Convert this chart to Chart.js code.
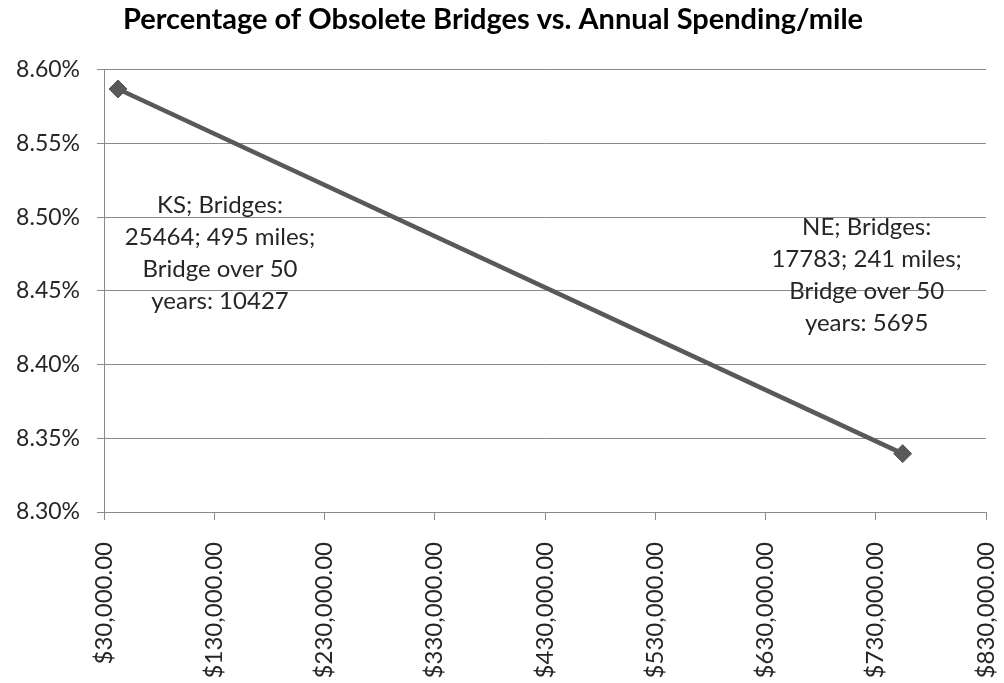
<!DOCTYPE html>
<html>
<head>
<meta charset="utf-8">
<script src="https://cdn.jsdelivr.net/npm/chart.js@4.4.1/dist/chart.umd.min.js"></script>
<style>
  html, body { margin: 0; padding: 0; background: #ffffff; }
  #wrap { width: 1004px; height: 683px; }
</style>
</head>
<body>
<div id="wrap"><canvas id="chart" width="1004" height="683"></canvas></div>
<script>
// Annual spending per mile (USD) and share of obsolete bridges (%)
const states = ['KS', 'NE'];
const spendingPerMile = [42700, 754400];
const obsoletePct = [8.587, 8.3396];
const stateLabels = [
  ['KS; Bridges:', '25464; 495 miles;', 'Bridge over 50', 'years: 10427'],
  ['NE; Bridges:', '17783; 241 miles;', 'Bridge over 50', 'years: 5695']
];
const xTickMin = 30000, xTickMax = 830000, xTickStep = 100000;
const yTickMin = 8.30, yTickMax = 8.60, yTickStep = 0.05;

const FONT = 'Lato, "Open Sans", sans-serif';
const TEXT = '#262626';
const GRID = '#8a8a8a';

// Multi-line labels placed beside each point (offset from the point, in px)
const labelOffsets = [{ dx: 102, dy: 116 }, { dx: -36, dy: -226 }];

const pointLabels = {
  id: 'pointLabels',
  afterDatasetsDraw(chart) {
    const ctx = chart.ctx;
    const meta = chart.getDatasetMeta(0);
    ctx.save();
    ctx.font = '24px ' + FONT;
    ctx.fillStyle = TEXT;
    ctx.textAlign = 'center';
    ctx.textBaseline = 'middle';
    meta.data.forEach((pt, i) => {
      const off = labelOffsets[i];
      stateLabels[i].forEach((line, j) => {
        ctx.fillText(line, pt.x + off.dx, pt.y + off.dy + j * 32);
      });
    });
    ctx.restore();
  }
};

new Chart(document.getElementById('chart'), {
  type: 'line',
  data: {
    datasets: [{
      label: 'Obsolete bridges',
      data: spendingPerMile.map((x, i) => ({ x: x, y: obsoletePct[i] })),
      borderColor: '#595959',
      backgroundColor: '#595959',
      borderWidth: 4.5,
      pointStyle: 'rectRot',
      pointRadius: 9,
      pointBorderWidth: 1,
      pointBorderColor: '#595959',
      pointBackgroundColor: '#595959',
      tension: 0
    }]
  },
  options: {
    responsive: false,
    animation: false,
    layout: { padding: { left: 0, right: 18, top: 0, bottom: 0 } },
    plugins: {
      legend: { display: false },
      tooltip: { enabled: false },
      title: {
        display: true,
        text: 'Percentage of Obsolete Bridges vs. Annual Spending/mile',
        color: '#000000',
        font: { family: FONT, size: 29, weight: 'bold', lineHeight: 1.2 },
        padding: { top: 2, bottom: 33 }
      }
    },
    scales: {
      x: {
        type: 'linear',
        min: xTickMin,
        max: xTickMax,
        afterFit(scale) {
          scale.height = 171;
          scale.paddingLeft = 0;
          scale.paddingRight = 0;
        },
        border: { display: true, color: GRID, width: 1 },
        grid: { drawOnChartArea: false, drawTicks: true, tickLength: 8, color: GRID },
        ticks: {
          stepSize: xTickStep,
          autoSkip: false,
          minRotation: 90,
          maxRotation: 90,
          padding: 22,
          color: TEXT,
          font: { family: FONT, size: 24 },
          callback: v => '$' + Number(v).toLocaleString('en-US', { minimumFractionDigits: 2, maximumFractionDigits: 2 })
        }
      },
      y: {
        type: 'linear',
        min: yTickMin,
        max: yTickMax,
        afterFit(scale) { scale.width = 104; },
        border: { display: true, color: GRID, width: 1 },
        grid: { drawOnChartArea: true, drawTicks: true, tickLength: 7, color: GRID },
        ticks: {
          stepSize: yTickStep,
          padding: 17,
          color: TEXT,
          font: { family: FONT, size: 23 },
          callback: v => Number(v).toFixed(2) + '%'
        }
      }
    }
  },
  plugins: [pointLabels]
});
</script>
</body>
</html>
